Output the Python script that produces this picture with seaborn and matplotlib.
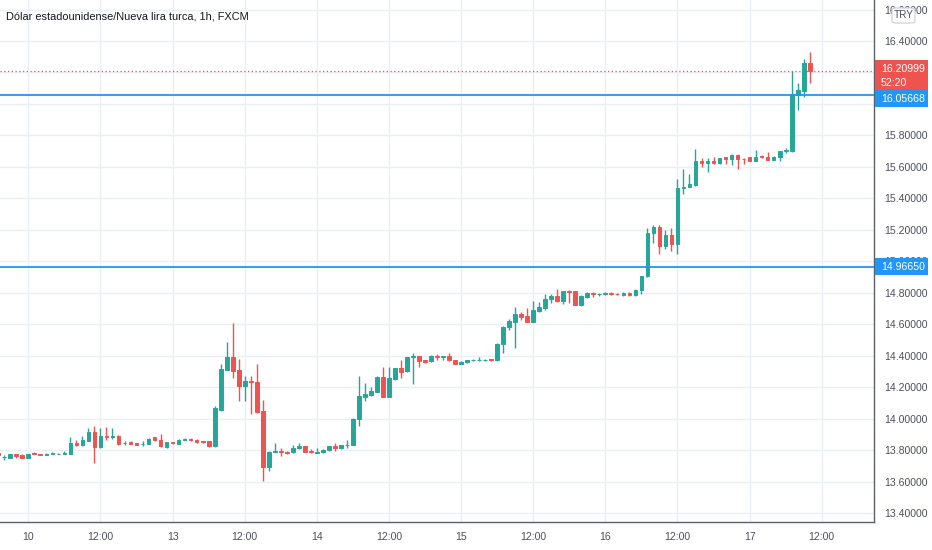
import numpy as np
import pandas as pd
import matplotlib
matplotlib.use("Agg")
import matplotlib.pyplot as plt
import seaborn as sns
from matplotlib.patches import Rectangle, FancyBboxPatch

# ---------------- data (hourly OHLC, USD/TRY, FXCM) ----------------
opens = [13.780, 13.755, 13.750, 13.775, 13.770, 13.750, 13.780, 13.775, 13.770, 13.775,
         13.776, 13.775, 13.775, 13.845, 13.830, 13.860, 13.915, 13.820, 13.890, 13.880,
         13.890, 13.844, 13.850, 13.845, 13.839, 13.840, 13.880, 13.865, 13.820, 13.850,
         13.840, 13.865, 13.870, 13.865, 13.855, 13.855, 13.825, 14.055, 14.310, 14.390,
         14.310, 14.210, 14.240, 14.235, 14.050, 13.690, 13.790, 13.795, 13.790, 13.785,
         13.810, 13.825, 13.795, 13.784, 13.785, 13.800, 13.825, 13.810, 13.830, 13.835,
         13.995, 14.140, 14.150, 14.170, 14.265, 14.140, 14.250, 14.320, 14.300, 14.390,
         14.395, 14.370, 14.365, 14.400, 14.390, 14.395, 14.370, 14.350, 14.360, 14.370,
         14.370, 14.370, 14.377, 14.370, 14.475, 14.585, 14.615, 14.665, 14.655, 14.615,
         14.685, 14.705, 14.760, 14.780, 14.750, 14.810, 14.810, 14.725, 14.775, 14.800,
         14.789, 14.790, 14.800, 14.795, 14.785, 14.800, 14.785, 14.815, 14.905, 15.180,
         15.215, 15.095, 15.170, 15.110, 15.465, 15.475, 15.485, 15.635, 15.625, 15.640,
         15.625, 15.660, 15.650, 15.675, 15.652, 15.660, 15.640, 15.670, 15.665, 15.645,
         15.660, 15.700, 15.700, 16.055, 16.080, 16.260]
highs = [13.785, 13.770, 13.778, 13.778, 13.773, 13.778, 13.785, 13.778, 13.779, 13.790,
         13.782, 13.795, 13.880, 13.865, 13.890, 13.940, 13.950, 13.940, 13.945, 13.940,
         13.894, 13.855, 13.855, 13.848, 13.855, 13.874, 13.884, 13.900, 13.854, 13.854,
         13.870, 13.876, 13.874, 13.868, 13.858, 13.860, 14.080, 14.350, 14.490, 14.610,
         14.380, 14.270, 14.270, 14.350, 14.120, 13.795, 13.845, 13.810, 13.794, 13.830,
         13.845, 13.829, 13.805, 13.810, 13.804, 13.829, 13.845, 13.834, 13.865, 14.005,
         14.270, 14.225, 14.200, 14.269, 14.330, 14.330, 14.324, 14.370, 14.394, 14.420,
         14.399, 14.374, 14.404, 14.410, 14.398, 14.420, 14.374, 14.364, 14.374, 14.379,
         14.390, 14.379, 14.381, 14.479, 14.589, 14.635, 14.710, 14.675, 14.700, 14.745,
         14.740, 14.790, 14.790, 14.825, 14.814, 14.815, 14.814, 14.784, 14.804, 14.805,
         14.800, 14.804, 14.804, 14.798, 14.804, 14.804, 14.824, 14.909, 15.210, 15.230,
         15.230, 15.200, 15.210, 15.520, 15.585, 15.555, 15.715, 15.655, 15.655, 15.660,
         15.659, 15.664, 15.680, 15.680, 15.656, 15.665, 15.705, 15.675, 15.695, 15.669,
         15.704, 15.720, 16.210, 16.130, 16.285, 16.330]
lows = [13.765, 13.740, 13.747, 13.750, 13.747, 13.747, 13.772, 13.766, 13.766, 13.772,
        13.773, 13.772, 13.772, 13.825, 13.826, 13.856, 13.720, 13.816, 13.865, 13.870,
        13.835, 13.835, 13.837, 13.832, 13.825, 13.836, 13.855, 13.822, 13.816, 13.840,
        13.836, 13.862, 13.855, 13.846, 13.846, 13.822, 13.822, 14.050, 14.306, 14.255,
        14.115, 14.115, 14.030, 14.035, 13.605, 13.665, 13.786, 13.760, 13.776, 13.780,
        13.806, 13.786, 13.781, 13.780, 13.781, 13.796, 13.795, 13.806, 13.810, 13.831,
        13.955, 14.110, 14.146, 14.166, 14.136, 14.136, 14.246, 14.260, 14.296, 14.220,
        14.330, 14.356, 14.361, 14.375, 14.370, 14.366, 14.346, 14.346, 14.356, 14.366,
        14.366, 14.366, 14.366, 14.366, 14.420, 14.560, 14.450, 14.625, 14.611, 14.611,
        14.675, 14.690, 14.735, 14.740, 14.730, 14.735, 14.721, 14.715, 14.765, 14.770,
        14.780, 14.786, 14.786, 14.786, 14.781, 14.781, 14.781, 14.790, 14.901, 15.115,
        15.045, 15.080, 15.065, 15.045, 15.425, 15.471, 15.481, 15.600, 15.565, 15.621,
        15.621, 15.620, 15.610, 15.585, 15.620, 15.636, 15.636, 15.655, 15.641, 15.641,
        15.640, 15.685, 15.696, 15.960, 16.045, 16.135]
closes = [13.770, 13.757, 13.775, 13.765, 13.750, 13.775, 13.775, 13.770, 13.775, 13.780,
          13.778, 13.780, 13.845, 13.830, 13.865, 13.915, 13.820, 13.890, 13.880, 13.890,
          13.840, 13.846, 13.840, 13.835, 13.841, 13.870, 13.865, 13.825, 13.850, 13.845,
          13.865, 13.870, 13.865, 13.850, 13.850, 13.825, 14.065, 14.315, 14.390, 14.305,
          14.210, 14.240, 14.230, 14.040, 13.690, 13.790, 13.795, 13.785, 13.780, 13.810,
          13.825, 13.790, 13.785, 13.786, 13.800, 13.825, 13.810, 13.830, 13.835, 13.995,
          14.145, 14.155, 14.175, 14.265, 14.140, 14.260, 14.320, 14.295, 14.390, 14.395,
          14.365, 14.360, 14.400, 14.390, 14.395, 14.370, 14.350, 14.360, 14.370, 14.375,
          14.375, 14.375, 14.370, 14.475, 14.585, 14.620, 14.665, 14.645, 14.615, 14.690,
          14.710, 14.760, 14.780, 14.750, 14.810, 14.805, 14.725, 14.780, 14.800, 14.790,
          14.791, 14.800, 14.790, 14.790, 14.800, 14.785, 14.820, 14.905, 15.180, 15.215,
          15.095, 15.170, 15.110, 15.465, 15.475, 15.490, 15.635, 15.625, 15.640, 15.625,
          15.655, 15.650, 15.675, 15.650, 15.650, 15.640, 15.665, 15.665, 15.645, 15.665,
          15.700, 15.705, 16.060, 16.090, 16.260, 16.20999]

time_tick_labels = ["10", "12:00", "13", "12:00", "14", "12:00",
                    "15", "12:00", "16", "12:00", "17", "12:00"]
price_ticks = [13.4, 13.6, 13.8, 14.0, 14.2, 14.4, 14.6, 14.8, 15.0,
               15.2, 15.4, 15.6, 15.8, 16.0, 16.2, 16.4, 16.6]
hidden_price_ticks = [16.0, 16.2]   # covered by the price labels in the original
level_lines = [16.05668, 14.96650]
last_price = 16.20999
countdown = "52:20"
title = "Dólar estadounidense/Nueva lira turca, 1h, FXCM"

# ---------------- styling ----------------
sns.set_theme(style="white")
plt.rcParams["font.family"] = ["Liberation Sans", "DejaVu Sans"]

UP = "#26a69a"
DOWN = "#ef5350"
BLUE = "#2196f3"
GRID = "#eaeef5"
TXT = "#4c505b"
W, H = 932, 550
FS = 7.6

df = pd.DataFrame({"open": opens, "high": highs, "low": lows, "close": closes})
df["idx"] = np.arange(len(df))
df["up"] = df["close"] >= df["open"]
df["color"] = np.where(df["up"], UP, DOWN)
df["bottom"] = df[["open", "close"]].min(axis=1)
df["height"] = (df["close"] - df["open"]).abs()

fig = plt.figure(figsize=(W / 100, H / 100), dpi=100)
ax = fig.add_axes([0, 28 / H, 874 / W, 522 / H])

# grid
tick_pos = 5 + 12 * np.arange(len(time_tick_labels))
for t in tick_pos:
    ax.axvline(t, color=GRID, lw=1, zorder=0)
for p in price_ticks:
    ax.axhline(p, color=GRID, lw=1, zorder=0)

# candles
ax.vlines(df["idx"], df["low"], df["high"], colors=df["color"], lw=1, zorder=2)
ax.bar(df["idx"], df["height"], bottom=df["bottom"], width=0.62,
       color=df["color"], edgecolor=df["color"], linewidth=0.7, zorder=3)

# level lines
for lv in level_lines:
    ax.axhline(lv, color=BLUE, lw=1.3, zorder=4)
ax.axhline(last_price, color=DOWN, lw=0.9, ls=(0, (1, 2)), zorder=4)

ax.set_xlim(0.285, 145.7)
ax.set_ylim(13.3428, 16.6606)

ax.set_xticks(tick_pos)
ax.set_xticklabels(time_tick_labels)
ax.set_yticks(price_ticks)
ax.set_yticklabels(["" if p in hidden_price_ticks else f"{p:.5f}" for p in price_ticks])
ax.yaxis.tick_right()
ax.tick_params(axis="y", length=0, labelsize=FS, colors=TXT, pad=7)
ax.tick_params(axis="x", length=0, labelsize=7.6, colors=TXT, pad=7)
for s in ["top", "left"]:
    ax.spines[s].set_visible(False)
for s in ["right", "bottom"]:
    ax.spines[s].set_color("#5d606b")
    ax.spines[s].set_linewidth(1)

fig.canvas.draw()


def ypx(v):
    """data value -> pixel row from the top"""
    return H - ax.transData.transform((0, v))[1]


def frac(x, y_top):
    return x / W, 1 - y_top / H


# price labels on the right axis
yr = ypx(last_price)
x0, y0 = frac(875, yr + 19)
fig.add_artist(Rectangle((x0, y0), 53 / W, 29.5 / H, transform=fig.transFigure,
                         facecolor=DOWN, edgecolor="none", zorder=10))
fig.text(*frac(881, yr - 1.5), f"{last_price:.5f}", color="white", fontsize=FS,
         va="center", ha="left", zorder=11)
fig.text(*frac(881, yr + 12), countdown, color="white", fontsize=FS,
         va="center", ha="left", zorder=11)

label_centres = [max(ypx(level_lines[0]), yr + 28), ypx(level_lines[1])]
for lv, yc in zip(level_lines, label_centres):
    x0, y0 = frac(875, yc + 8.5)
    fig.add_artist(Rectangle((x0, y0), 53 / W, 17 / H, transform=fig.transFigure,
                             facecolor=BLUE, edgecolor="none", zorder=10))
    fig.text(*frac(881, yc), f"{lv:.5f}", color="white", fontsize=FS,
             va="center", ha="left", zorder=11)

# currency badge
x0, y0 = frac(892, 23)
fig.add_artist(FancyBboxPatch((x0, y0), 23 / W, 15 / H, transform=fig.transFigure,
                              boxstyle="round,pad=0,rounding_size=0.004",
                              facecolor="white", edgecolor="#c9ccd4", lw=0.8, zorder=10))
fig.text(*frac(903.5, 15.5), "TRY", color=TXT, fontsize=7.2, va="center", ha="center", zorder=11)

# title
fig.text(*frac(6, 16.5), title, color="#131722", fontsize=7.9, va="center", ha="left")

fig.savefig("out.png", dpi=100, facecolor="white")
